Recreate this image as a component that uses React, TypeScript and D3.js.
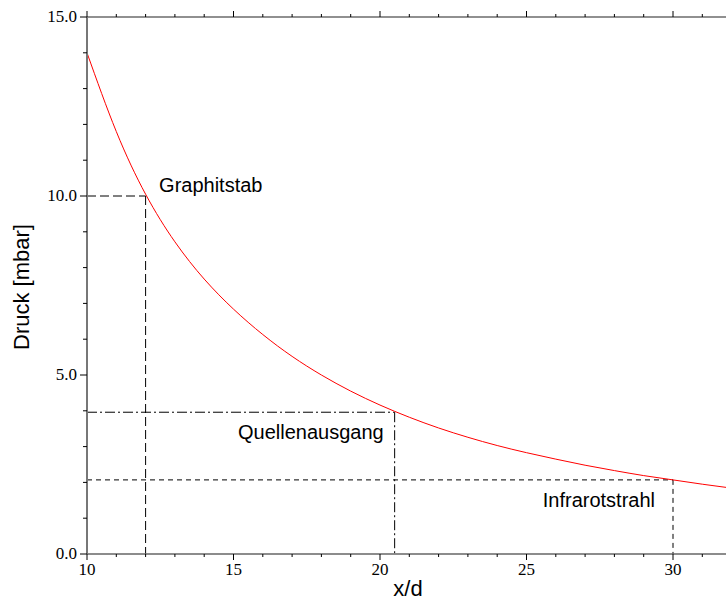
import React from "react";
import * as d3 from "d3";

// x/d positions and pressure readings (mbar)
const xValues = [10, 11, 12, 13, 14, 15, 16, 17, 18, 19, 20, 21, 22, 23, 24, 25, 26, 27, 28, 29, 30, 31, 32];
const pressure = [14.0, 11.8, 10.05, 8.72, 7.68, 6.84, 6.13, 5.52, 5.0, 4.55, 4.16, 3.82, 3.52, 3.26, 3.03, 2.83, 2.65, 2.48, 2.33, 2.19, 2.07, 1.95, 1.84];

// marked positions
const markNames = ["Graphitstab", "Quellenausgang", "Infrarotstrahl"];
const markX = [12, 20.5, 30];
const markP = [10.0, 3.96, 2.07];

const xTicks = [10, 15, 20, 25, 30];
const yTicks = [0, 5, 10, 15];

const W = 726;
const H = 602;

const App = () => {
  const x = d3.scaleLinear().domain([10, 32]).range([87, 731.6]);
  const y = d3.scaleLinear().domain([0, 15]).range([554, 17]);

  const line = d3
    .line<number>()
    .x((_, i) => x(xValues[i]))
    .y((d) => y(d))
    .curve(d3.curveNatural);

  const minorX = d3.range(10, 33, 1);
  const minorY = d3.range(0, 16, 1);
  const dashes = ["9,4", "10,3,2,3", "5,4"];
  // label anchor offsets (relative to the mark point)
  const labelPos = [
    { dx: 13.5, dy: -4, anchor: "start" },
    { dx: -11, dy: 27, anchor: "end" },
    { dx: -18, dy: 27, anchor: "end" },
  ];

  const serif = "'Liberation Serif', 'Times New Roman', serif";
  const sans = "'Liberation Sans', Arial, sans-serif";

  return (
    <svg width={W} height={H} style={{ position: "absolute", left: 0, top: 0 }}>
      <rect width={W} height={H} fill="#fff" />

      {/* guide lines */}
      {markNames.map((name, i) => (
        <g key={name} stroke="#000" strokeWidth={1} strokeDasharray={dashes[i]} fill="none">
          <line x1={x(10)} x2={x(markX[i])} y1={y(markP[i])} y2={y(markP[i])} />
          <line x1={x(markX[i])} x2={x(markX[i])} y1={y(markP[i])} y2={y(0)} />
        </g>
      ))}

      <path d={line(pressure) || ""} fill="none" stroke="#ff0000" strokeWidth={1} />

      {/* annotations */}
      {markNames.map((name, i) => (
        <text
          key={name}
          x={x(markX[i]) + labelPos[i].dx}
          y={y(markP[i]) + labelPos[i].dy}
          textAnchor={labelPos[i].anchor}
          fontFamily={sans}
          fontSize={20}
          fill="#000"
        >
          {name}
        </text>
      ))}

      {/* x axis bottom */}
      <line x1={x(10)} x2={W} y1={y(0)} y2={y(0)} stroke="#666" strokeWidth={1.5} />
      {minorX.map((t) => (
        <line
          key={"bx" + t}
          x1={x(t)}
          x2={x(t)}
          y1={y(0)}
          y2={y(0) + (t % 5 === 0 ? 6 : 3)}
          stroke="#000"
        />
      ))}
      {xTicks.map((t) => (
        <text key={"xl" + t} x={x(t)} y={y(0) + 21} textAnchor="middle" fontFamily={serif} fontSize={17}>
          {t}
        </text>
      ))}

      {/* x axis top */}
      <line x1={x(10)} x2={W} y1={y(15)} y2={y(15)} stroke="#222" strokeWidth={1.2} />
      {minorX.map((t) => (
        <line
          key={"tx" + t}
          x1={x(t)}
          x2={x(t)}
          y1={y(15)}
          y2={y(15) - (t % 5 === 0 ? 6 : 3)}
          stroke="#000"
        />
      ))}

      {/* y axis */}
      <line x1={x(10)} x2={x(10)} y1={y(0)} y2={y(15)} stroke="#777" strokeWidth={2} />
      {minorY.map((t) => (
        <line
          key={"yt" + t}
          x1={x(10)}
          x2={x(10) - (t % 5 === 0 ? 7 : 4)}
          y1={y(t)}
          y2={y(t)}
          stroke="#000"
        />
      ))}
      {yTicks.map((t) => (
        <text key={"yl" + t} x={x(10) - 10} y={y(t) + 5} textAnchor="end" fontFamily={serif} fontSize={17}>
          {t.toFixed(1)}
        </text>
      ))}

      {/* axis titles */}
      <text x={408} y={596} textAnchor="middle" fontFamily={sans} fontSize={22}>
        x/d
      </text>
      <text
        transform={`translate(29, 287) rotate(-90)`}
        textAnchor="middle"
        fontFamily={sans}
        fontSize={22}
      >
        Druck [mbar]
      </text>
    </svg>
  );
};

export default App;
